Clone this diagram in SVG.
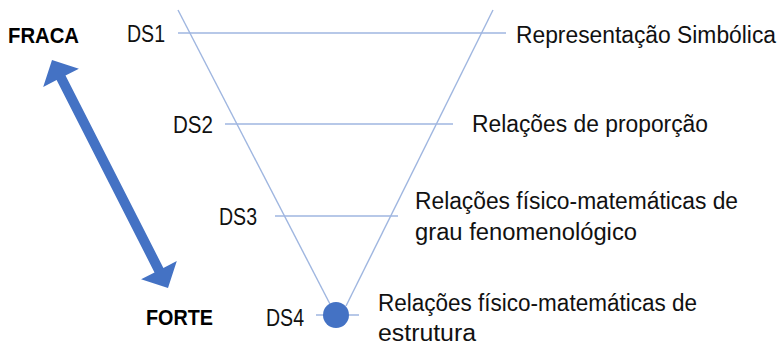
<svg xmlns="http://www.w3.org/2000/svg" width="781" height="345" viewBox="0 0 781 345">
<style>
.ln{stroke:#9fb6e0;stroke-width:1.4;fill:none}
.t{font-family:"Liberation Sans",Arial,sans-serif;font-size:23px;fill:#111}
.b{font-family:"Liberation Sans",Arial,sans-serif;font-size:22px;font-weight:bold;fill:#000}
</style>
<rect width="781" height="345" fill="#fff"/>
<g id="connectors">
<line class="ln" x1="178" y1="10" x2="331" y2="306"/>
<line class="ln" x1="493" y1="10" x2="346" y2="306"/>
<line class="ln" x1="178" y1="33" x2="506" y2="33"/>
<line class="ln" x1="225" y1="124" x2="453" y2="124"/>
<line class="ln" x1="275" y1="216" x2="398" y2="216"/>
<line class="ln" x1="316" y1="315" x2="359" y2="315"/>
</g>
<g id="arrow">
<polygon fill="#4472c4" points="52,60 78.9,68.8 65.5,75.6 163.4,267.9 176.8,261.1 168,288 141.1,279.2 154.5,272.4 56.6,80.1 43.2,86.9"/>
</g>
<g id="fraca"><text class="b" x="8" y="43" textLength="71" lengthAdjust="spacingAndGlyphs">FRACA</text></g>
<g id="forte"><text class="b" x="146" y="325" textLength="67" lengthAdjust="spacingAndGlyphs">FORTE</text></g>
<g id="ds1">
<text class="t" x="127" y="42" textLength="38" lengthAdjust="spacingAndGlyphs">DS1</text>
<text class="t" x="516" y="43" textLength="260" lengthAdjust="spacingAndGlyphs">Representação Simbólica</text>
</g>
<g id="ds2">
<text class="t" x="173" y="133" textLength="40" lengthAdjust="spacingAndGlyphs">DS2</text>
<text class="t" x="472" y="132" textLength="236" lengthAdjust="spacingAndGlyphs">Relações de proporção</text>
</g>
<g id="ds3">
<text class="t" x="219" y="225" textLength="38" lengthAdjust="spacingAndGlyphs">DS3</text>
<text class="t" x="415" y="209" textLength="323" lengthAdjust="spacingAndGlyphs">Relações físico-matemáticas de</text>
<text class="t" x="415" y="240" textLength="222" lengthAdjust="spacingAndGlyphs">grau fenomenológico</text>
</g>
<g id="ds4">
<text class="t" x="266" y="326" textLength="38" lengthAdjust="spacingAndGlyphs">DS4</text>
<circle cx="336" cy="315" r="13" fill="#4472c4"/>
<text class="t" x="378" y="311" textLength="319" lengthAdjust="spacingAndGlyphs">Relações físico-matemáticas de</text>
<text class="t" x="378" y="341" textLength="98" lengthAdjust="spacingAndGlyphs">estrutura</text>
</g>
</svg>
